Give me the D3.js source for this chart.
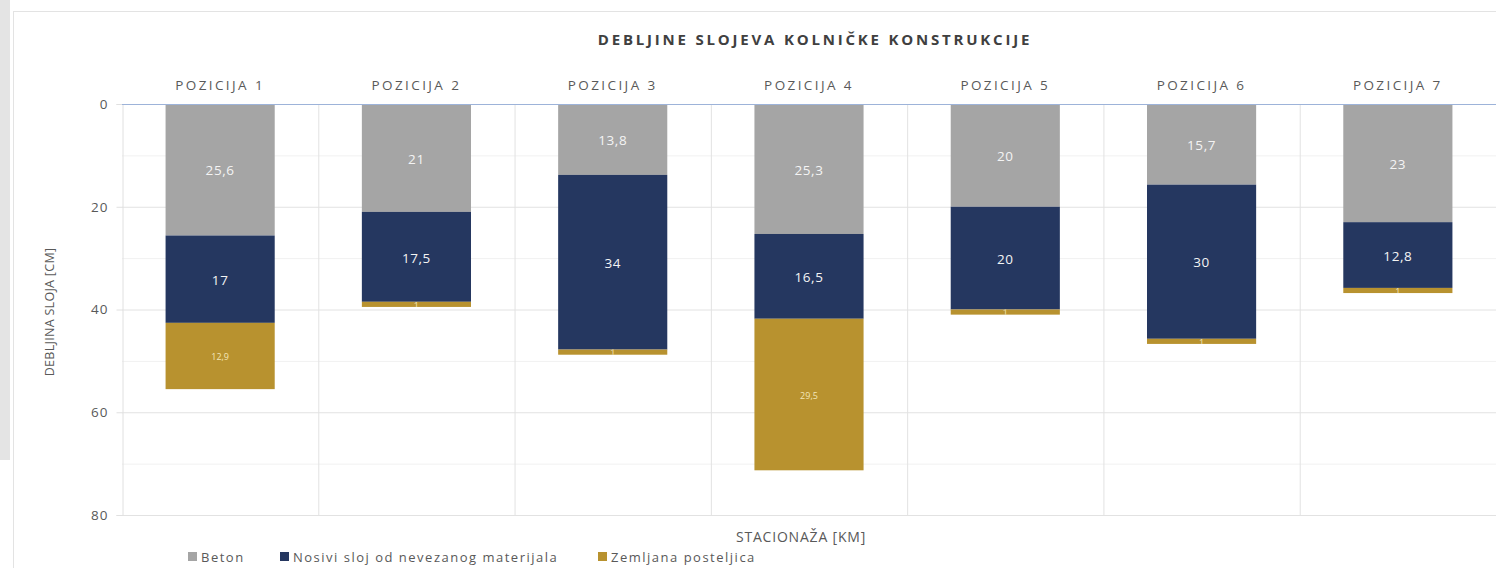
<!DOCTYPE html>
<html>
<head>
<meta charset="utf-8">
<script src="https://cdn.jsdelivr.net/npm/d3@7"></script>
<style>
  html, body { margin: 0; padding: 0; background: #fff; }
  svg { display: block; font-family: "Open Sans", sans-serif; }
</style>
</head>
<body>
<div id="chart"></div>
<script>
const categories = ['POZICIJA 1', 'POZICIJA 2', 'POZICIJA 3', 'POZICIJA 4', 'POZICIJA 5', 'POZICIJA 6', 'POZICIJA 7'];
const beton = [25.6, 21, 13.8, 25.3, 20, 15.7, 23];
const nosivi = [17, 17.5, 34, 16.5, 20, 30, 12.8];
const zemljana = [12.9, 1, 1, 29.5, 1, 1, 1];
const seriesNames = ['Beton', 'Nosivi sloj od nevezanog materijala', 'Zemljana posteljica'];
const yTicks = [0, 20, 40, 60, 80];

const W = 1496, H = 568;
const colors = ['#a5a5a5', '#253760', '#b8922f'];
const labelColors = ['#f4f4f4', '#f4f4f4', '#f3e6b8'];
const labelSizes = [13.5, 13.5, 9];

const svg = d3.select('#chart').append('svg').attr('width', W).attr('height', H);

// window frame bits
svg.append('rect').attr('x', 0).attr('y', 0).attr('width', 10).attr('height', 460).attr('fill', '#e4e4e4');
svg.append('rect').attr('x', 13.5).attr('y', 11.5).attr('width', W).attr('height', H)
  .attr('fill', '#fff').attr('stroke', '#e3e3e3');

const x = d3.scaleBand().domain(categories).range([122, 1496]).paddingInner(0).paddingOuter(0);
const y = d3.scaleLinear().domain([0, 80]).range([104, 515]);
const barW = x.bandwidth() * 0.556;

// minor + major gridlines
const grid = svg.append('g');
grid.selectAll('line.minor').data(d3.range(10, 80, 20)).join('line')
  .attr('class', 'minor')
  .attr('x1', 122).attr('x2', W).attr('y1', d => y(d) + 0.5).attr('y2', d => y(d) + 0.5)
  .attr('stroke', '#f1f1f1');
grid.selectAll('line.major').data(yTicks.slice(1)).join('line')
  .attr('class', 'major')
  .attr('x1', 122).attr('x2', W).attr('y1', d => y(d) + 0.5).attr('y2', d => y(d) + 0.5)
  .attr('stroke', '#e2e2e2');
grid.selectAll('line.v').data(categories.slice(1)).join('line')
  .attr('class', 'v')
  .attr('x1', d => x(d) + 0.5).attr('x2', d => x(d) + 0.5).attr('y1', y(0)).attr('y2', y(80))
  .attr('stroke', '#e2e2e2');

// y axis
const yAxis = svg.append('g').attr('transform', 'translate(122.5,0)')
  .call(d3.axisLeft(y).tickValues(yTicks).tickSize(6).tickPadding(8));
yAxis.select('.domain').attr('stroke', '#e0e0e0');
yAxis.selectAll('.tick line').attr('stroke', '#e0e0e0');
yAxis.selectAll('.tick text').attr('fill', '#595959').attr('font-size', 13.5)
  .attr('font-family', '"Open Sans", sans-serif').attr('letter-spacing', 1);

// stacked bars
const rows = categories.map((c, i) => ({ cat: c, Beton: beton[i], Nosivi: nosivi[i], Zemljana: zemljana[i] }));
const stack = d3.stack().keys(['Beton', 'Nosivi', 'Zemljana'])(rows);

const defs = svg.append('defs');
stack.forEach((layer, li) => {
  const g = svg.append('g');
  layer.forEach((d, i) => {
    const x0 = x(d.data.cat) + (x.bandwidth() - barW) / 2;
    const y0 = y(d[0]), y1 = y(d[1]);
    const id = `clip-${li}-${i}`;
    defs.append('clipPath').attr('id', id).append('rect')
      .attr('x', x0).attr('y', y0).attr('width', barW).attr('height', y1 - y0);
    g.append('rect')
      .attr('x', x0).attr('y', y0).attr('width', barW).attr('height', y1 - y0)
      .attr('fill', colors[li]);
    const v = d[1] - d[0];
    g.append('text')
      .attr('clip-path', `url(#${id})`)
      .attr('x', x0 + barW / 2).attr('y', (y0 + y1) / 2 + 1)
      .attr('dy', '0.35em').attr('text-anchor', 'middle')
      .attr('fill', labelColors[li]).attr('font-size', labelSizes[li])
      .attr('letter-spacing', li < 2 ? 0.6 : 0)
      .text(d3.format('~')(+v.toFixed(1)).replace('.', ','));
  });
});

// top axis line (value 0)
svg.append('line').attr('x1', 122).attr('x2', W).attr('y1', y(0) + 0.5).attr('y2', y(0) + 0.5)
  .attr('stroke', '#9db3d9');

// category labels on top
svg.append('g').selectAll('text').data(categories).join('text')
  .attr('x', d => x(d) + x.bandwidth() / 2).attr('y', 85)
  .attr('dy', '0.35em').attr('text-anchor', 'middle')
  .attr('fill', '#595959').attr('font-size', 13.5).attr('letter-spacing', 2.4)
  .text(d => d);

// title
svg.append('text').attr('x', 815).attr('y', 40).attr('dy', '0.35em').attr('text-anchor', 'middle')
  .attr('fill', '#404040').attr('font-size', 15).attr('font-weight', 'bold').attr('letter-spacing', 2.8)
  .text('DEBLJINE SLOJEVA KOLNIČKE KONSTRUKCIJE');

// axis titles
svg.append('text').attr('transform', 'translate(50,312) rotate(-90)').attr('dy', '0.35em')
  .attr('text-anchor', 'middle').attr('fill', '#595959').attr('font-size', 12.5)
  .attr('letter-spacing', 0.3)
  .text('DEBLJINA SLOJA [CM]');
svg.append('text').attr('x', 801).attr('y', 537).attr('dy', '0.35em').attr('text-anchor', 'middle')
  .attr('fill', '#595959').attr('font-size', 14).attr('letter-spacing', 0.8)
  .text('STACIONAŽA [KM]');

// legend
const legendX = [188, 280, 598];
const lg = svg.append('g').selectAll('g').data(seriesNames).join('g')
  .attr('transform', (d, i) => `translate(${legendX[i]},557)`);
lg.append('rect').attr('x', 0).attr('y', -5).attr('width', 9).attr('height', 9)
  .attr('fill', (d, i) => colors[i]);
lg.append('text').attr('x', 13).attr('dy', '0.35em').attr('fill', '#595959')
  .attr('font-size', 13).attr('letter-spacing', 1.5).text(d => d);
</script>
</body>
</html>
